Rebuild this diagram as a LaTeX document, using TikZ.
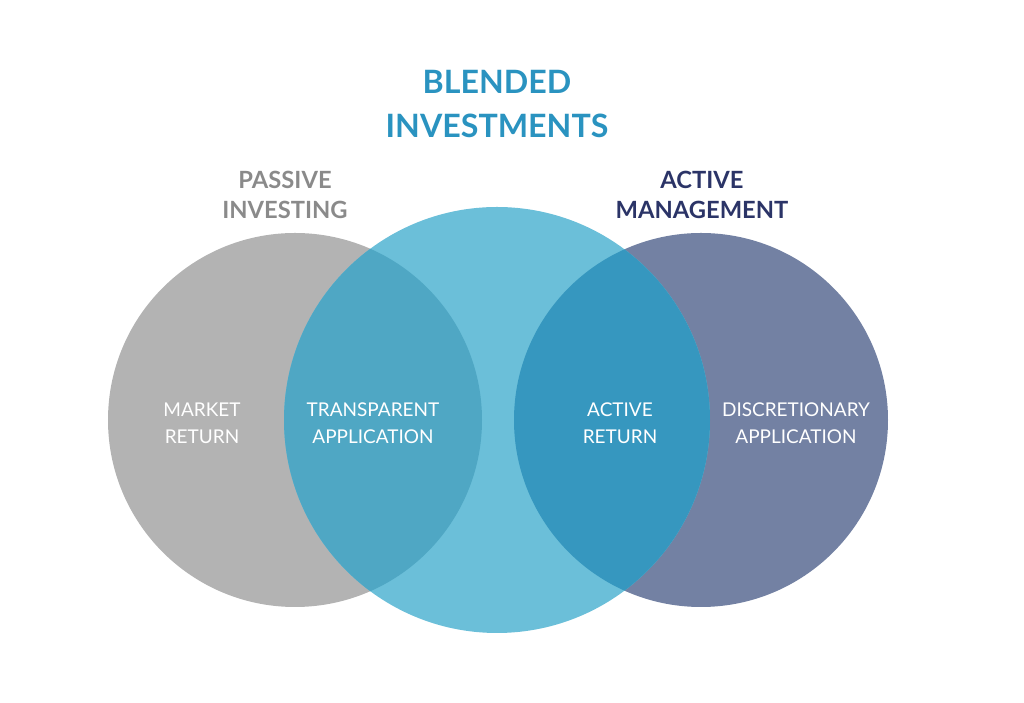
\documentclass[tikz,border=0pt]{standalone}
\usepackage{fontspec}
\setmainfont{Lato}
\usepackage{xcolor}
\usetikzlibrary{positioning}
\definecolor{passivegray}{HTML}{B3B3B3}
\definecolor{blendcyan}{HTML}{6BBFD9}
\definecolor{activenavy}{HTML}{7381A3}
\definecolor{leftmix}{HTML}{4FA7C4}
\definecolor{rightmix}{HTML}{3697BF}
\definecolor{titleblue}{HTML}{2A93C0}
\definecolor{headgray}{HTML}{8A8A8A}
\definecolor{headnavy}{HTML}{2B3467}

\begin{document}
\begin{tikzpicture}[
          head/.style={font=\fontsize{13.5}{17}\selectfont\bfseries,align=center},
          lbl/.style={text=white,font=\fontsize{10.8}{15.3}\selectfont,align=center}
        ]
        \useasboundingbox (0,0) rectangle (20.48,14.06);
        \def\yc{5.66}
        % circles
        \fill[passivegray] (5.90,\yc) circle (3.74);
        \fill[activenavy] (14.02,\yc) circle (3.74);
        \fill[blendcyan] (9.94,\yc) circle (4.26);
        \begin{scope}
          \clip (5.90,\yc) circle (3.74);
          \fill[leftmix] (9.94,\yc) circle (4.26);
        \end{scope}
        \begin{scope}
          \clip (14.02,\yc) circle (3.74);
          \fill[rightmix] (9.94,\yc) circle (4.26);
        \end{scope}
        % headings
        \node[text=titleblue,font=\fontsize{18.3}{25.5}\selectfont\bfseries,align=center] (blend) at (9.94,11.98) {BLENDED\\INVESTMENTS};
        \node[head,text=headgray] (passive) at (5.70,10.16) {PASSIVE\\INVESTING};
        \node[head,text=headnavy] (active) at (14.04,10.16) {ACTIVE\\MANAGEMENT};
        % region labels
        \node[lbl] (market) at (4.04,5.59) {MARKET\\RETURN};
        \node[lbl] (transp) at (7.46,5.59) {TRANSPARENT\\APPLICATION};
        \node[lbl] (actret) at (12.40,5.59) {ACTIVE\\RETURN};
        \node[lbl] (discr) at (15.92,5.59) {DISCRETIONARY\\APPLICATION};
      \end{tikzpicture}
\end{document}
